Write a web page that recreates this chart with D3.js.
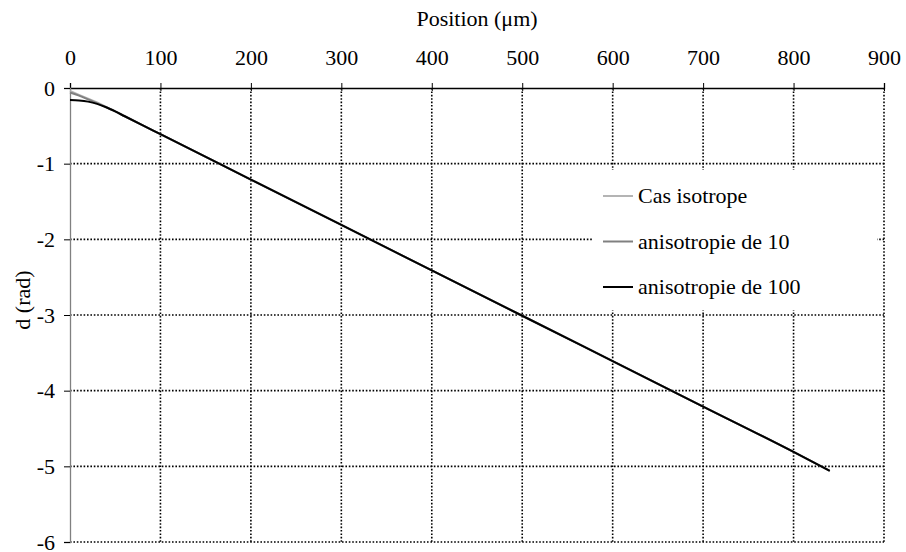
<!DOCTYPE html>
<html><head><meta charset="utf-8">
<script src="https://cdn.jsdelivr.net/npm/d3@7"></script>
<style>body{margin:0;background:#fff}svg{display:block}</style>
</head><body><div id="chart"></div>
<script>
const xTicks = [0,100,200,300,400,500,600,700,800,900];
const yTicks = [0,-1,-2,-3,-4,-5,-6];
const positions = [0,10,20,30,40,50,60,80,100,200,300,400,500,600,700,800,840];
const isotrope   = [-0.04,-0.09,-0.14,-0.19,-0.25,-0.31,-0.37,-0.49,-0.61,-1.21,-1.81,-2.41,-3.01,-3.61,-4.21,-4.81,-5.06];
const aniso10    = [-0.06,-0.10,-0.15,-0.20,-0.255,-0.31,-0.37,-0.49,-0.61,-1.21,-1.81,-2.41,-3.01,-3.61,-4.21,-4.81,-5.06];
const aniso100   = [-0.16,-0.165,-0.18,-0.21,-0.255,-0.31,-0.37,-0.49,-0.61,-1.21,-1.81,-2.41,-3.01,-3.61,-4.21,-4.81,-5.06];
const seriesNames = ["Cas isotrope","anisotropie de 10","anisotropie de 100"];
const seriesColors = ["#b4b4b4","#808080","#000000"];
const seriesValues = [isotrope, aniso10, aniso100];

const FONT = "'Liberation Serif', 'DejaVu Serif', serif";
const FS = "22px";
const W=906,H=552;
const svg=d3.select("#chart").append("svg").attr("width",W).attr("height",H)
  .style("font-family",FONT);
const x=d3.scaleLinear().domain([0,900]).range([70,884]);
const y=d3.scaleLinear().domain([0,-6]).range([88,542]);

// grid
const grid=svg.append("g").attr("stroke","#000").attr("stroke-width",1.6).attr("stroke-dasharray","1.6,1.8");
grid.selectAll(".v").data(xTicks.slice(1)).join("line")
  .attr("x1",d=>x(d)).attr("x2",d=>x(d)).attr("y1",y(0)).attr("y2",y(-6));
grid.selectAll(".h").data(yTicks.slice(1)).join("line")
  .attr("x1",x(0)).attr("x2",x(900)).attr("y1",d=>y(d)).attr("y2",d=>y(d));

// top axis
const xa=svg.append("g").attr("transform",`translate(0,${y(0)})`)
  .call(d3.axisTop(x).tickValues(xTicks).tickSize(5).tickPadding(18).tickFormat(d3.format("d")));
xa.select(".domain").attr("stroke","#000").attr("stroke-width",1.3);
xa.selectAll(".tick line").attr("y2",-5).attr("y1",3).attr("stroke","#000");
xa.selectAll(".tick text").style("font-family",FONT).style("font-size",FS).attr("fill","#000");

// left axis
const ya=svg.append("g").attr("transform",`translate(${x(0)},0)`)
  .call(d3.axisLeft(y).tickValues(yTicks).tickSize(6).tickPadding(9).tickFormat(d=>d===0?"0":String(d)));
ya.select(".domain").attr("stroke","#808080").attr("stroke-width",1.3);
ya.selectAll(".tick line").attr("stroke","#000");
ya.selectAll(".tick text").style("font-family",FONT).style("font-size",FS).attr("fill","#000");

// labels
svg.append("text").attr("x",477).attr("y",26).attr("text-anchor","middle")
  .style("font-family",FONT).style("font-size",FS).text("Position (μm)");
svg.append("text").attr("transform","translate(30,300) rotate(-90)").attr("text-anchor","middle")
  .style("font-family",FONT).style("font-size",FS).text("d (rad)");

// lines
const line=d3.line().x((d,i)=>x(positions[i])).y(d=>y(d)).curve(d3.curveMonotoneX);
seriesValues.forEach((vals,i)=>{
  svg.append("path").datum(vals).attr("d",line).attr("fill","none")
    .attr("stroke",seriesColors[i]).attr("stroke-width",2);
});

// legend
const lg=svg.append("g");
lg.append("rect").attr("x",592).attr("y",170).attr("width",285).attr("height",140).attr("fill","#fff");
seriesNames.forEach((n,i)=>{
  const yy=196+i*45.5;
  lg.append("line").attr("x1",603).attr("x2",633).attr("y1",yy).attr("y2",yy)
    .attr("stroke",seriesColors[i]).attr("stroke-width",2);
  lg.append("text").attr("x",638).attr("y",yy+7).style("font-family",FONT).style("font-size",FS).text(n);
});
</script></body></html>
